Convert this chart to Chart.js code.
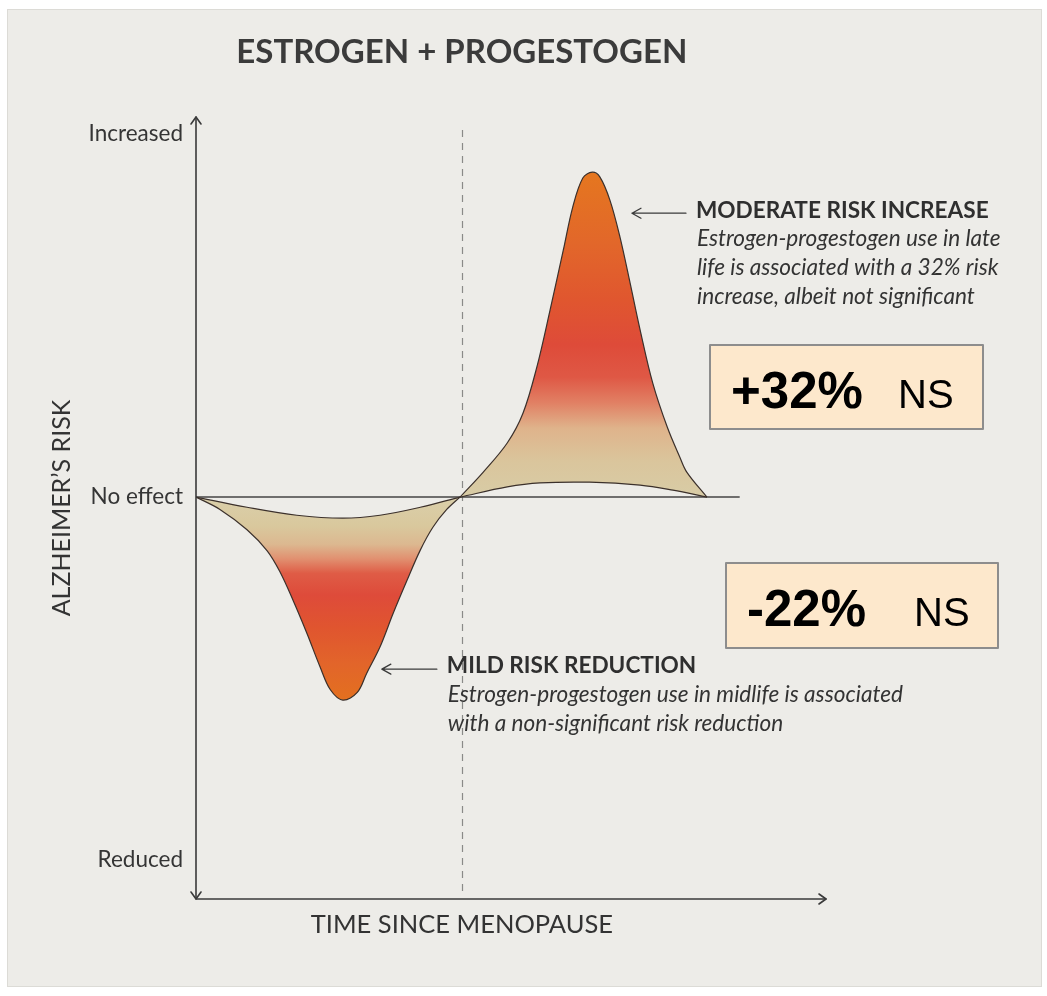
<!DOCTYPE html>
<html>
<head>
<meta charset="utf-8">
<title>Estrogen + Progestogen</title>
<script src="https://cdn.jsdelivr.net/npm/chart.js@4.4.1/dist/chart.umd.min.js"></script>
<style>
  html, body { margin: 0; padding: 0; background: #ffffff; }
  canvas { display: block; }
</style>
</head>
<body>
<canvas id="chart" width="1047" height="996"></canvas>
<script>
// ---- Data ---------------------------------------------------------------
// Y axis: relative Alzheimer's risk (0 = no effect)
const yTickValues = [1, 0, -1];
const yTickLabels = ['Increased', 'No effect', 'Reduced'];

// Midlife use (before the menopause marker): lower and upper edge of the lobe
const midlifeOuterX = [0, 0.38, 0.81, 1.13, 1.33, 1.54, 1.76, 1.97, 2.13, 2.33, 2.56, 2.71, 2.92, 3.13, 3.35, 3.56, 3.76, 3.98, 4.19];
const midlifeOuterY = [0, -0.034, -0.090, -0.148, -0.205, -0.284, -0.375, -0.468, -0.530, -0.559, -0.538, -0.485, -0.413, -0.320, -0.229, -0.146, -0.083, -0.034, 0];
const midlifeInnerX = [0, 0.81, 1.60, 2.33, 2.92, 3.56, 4.19];
const midlifeInnerY = [0, -0.028, -0.050, -0.058, -0.050, -0.028, 0];

// Late-life use: upper and lower edge of the lobe
const lateOuterX = [4.19, 4.56, 4.94, 5.19, 5.41, 5.62, 5.83, 5.98, 6.14, 6.29, 6.41, 6.57, 6.73, 6.89, 7.05, 7.25, 7.48, 7.68, 7.79, 8.11];
const lateOuterY = [0, 0.069, 0.149, 0.231, 0.358, 0.515, 0.680, 0.799, 0.879, 0.895, 0.882, 0.818, 0.716, 0.590, 0.460, 0.314, 0.193, 0.110, 0.069, 0];
const lateInnerX = [4.19, 4.94, 5.46, 6.25, 7.05, 7.57, 8.11];
const lateInnerY = [0, 0.028, 0.039, 0.041, 0.033, 0.019, 0];

// "No effect" reference line and the menopause marker
const noEffectX = [0, 8.63];
const noEffectY = [0, 0];
const menopauseX = 4.22;

// Text content
const chartTitle = 'ESTROGEN + PROGESTOGEN';
const xAxisTitle = 'TIME SINCE MENOPAUSE';
const yAxisTitle = 'ALZHEIMER\u2019S RISK';
const lateHeading = 'MODERATE RISK INCREASE';
const lateLines = ['Estrogen-progestogen use in late', 'life is associated with a 32% risk', 'increase, albeit not significant'];
const midHeading = 'MILD RISK REDUCTION';
const midLines = ['Estrogen-progestogen use in midlife is associated', 'with a non-significant risk reduction'];
const effectLabels = ['+32%', '-22%'];
const significanceLabels = ['NS', 'NS'];

// ---- Helpers --------------------------------------------------------------
const toPoints = (xs, ys) => xs.map((x, i) => ({ x, y: ys[i] }));

// Vertical gradient running from the no-effect line out to the lobe tip
function lobeGradient(ctx, stops) {
  const chart = ctx.chart;
  const { chartArea, scales } = chart;
  if (!chartArea) return 'rgba(224,90,40,0.8)';
  const y0 = scales.y.getPixelForValue(0);
  const yEnd = scales.y.getPixelForValue(stops[stops.length - 1][0]);
  const g = chart.ctx.createLinearGradient(0, y0, 0, yEnd);
  const span = stops[stops.length - 1][0];
  stops.forEach(([v, c]) => g.addColorStop(Math.min(1, Math.max(0, v / span)), c));
  return g;
}

const lateStops = [
  [0.00, '#d8cca6'],
  [0.10, '#dac59c'],
  [0.19, '#dfb38b'],
  [0.26, '#e18064'],
  [0.33, '#df5845'],
  [0.42, '#de4b39'],
  [0.54, '#e0562f'],
  [0.70, '#e2672a'],
  [0.90, '#e5771f']
];
const midStops = [
  [0.00, '#dacfaa'],
  [0.08, '#d9c89d'],
  [0.13, '#dcb890'],
  [0.17, '#e19070'],
  [0.21, '#df5c46'],
  [0.27, '#de4b3a'],
  [0.36, '#e0552f'],
  [0.46, '#e2652a'],
  [0.56, '#e3701f']
];

// ---- Decorations drawn around the plot --------------------------------------
const decorations = {
  id: 'decorations',
  beforeDraw(chart) {
    const c = chart.ctx;
    c.save();
    c.fillStyle = '#ffffff';
    c.fillRect(0, 0, chart.width, chart.height);
    c.fillStyle = '#edece8';
    c.fillRect(7, 9, 1035, 978);
    c.strokeStyle = '#dcdbd6';
    c.lineWidth = 1;
    c.strokeRect(7.5, 9.5, 1034, 977);
    c.restore();
  },
  beforeDatasetsDraw(chart) {
    const c = chart.ctx;
    const { chartArea, scales } = chart;
    const mx = Math.round(scales.x.getPixelForValue(menopauseX)) + 0.5;
    c.save();
    c.strokeStyle = '#8a8a88';
    c.lineWidth = 1.2;
    c.setLineDash([7, 6]);
    c.beginPath();
    c.moveTo(mx, chartArea.top + 13);
    c.lineTo(mx, chartArea.bottom - 2);
    c.stroke();
    c.restore();
  },
  afterDatasetsDraw(chart) {
    const c = chart.ctx;
    const { chartArea, scales } = chart;
    const ax = scales.x.getPixelForValue(0);
    const top = chartArea.top, bottom = chartArea.bottom, right = chartArea.right;
    c.save();
    // Axes with arrow heads
    c.strokeStyle = '#3a3a3a';
    c.lineWidth = 1.6;
    c.lineCap = 'round';
    c.lineJoin = 'round';
    c.beginPath();
    c.moveTo(ax, top); c.lineTo(ax, bottom);
    c.moveTo(ax, bottom); c.lineTo(right, bottom);
    c.stroke();
    c.beginPath();
    c.moveTo(ax - 5, top + 7); c.lineTo(ax, top); c.lineTo(ax + 5, top + 7);
    c.moveTo(ax - 5, bottom - 7); c.lineTo(ax, bottom); c.lineTo(ax + 5, bottom - 7);
    c.moveTo(right - 7, bottom - 5); c.lineTo(right, bottom); c.lineTo(right - 7, bottom + 5);
    c.stroke();

    const mx = scales.x.getPixelForValue(menopauseX);

    // Chart title, centred on the menopause marker
    c.fillStyle = '#3b3b3b';
    c.textAlign = 'center';
    c.textBaseline = 'middle';
    c.font = 'bold 33px Lato';
    c.fillText(chartTitle, mx, 52);

    // X axis title
    c.fillStyle = '#333333';
    c.font = '25.5px Lato';
    c.fillText(xAxisTitle, mx, 925);

    // Y axis title
    c.save();
    c.translate(62, (top + bottom) / 2);
    c.rotate(-Math.PI / 2);
    c.font = '25px Lato';
    c.fillText(yAxisTitle, 0, 0);
    c.restore();

    // Callouts
    const callout = (tipX, tipY, len, heading, lines, lineGap) => {
      const px = scales.x.getPixelForValue(tipX);
      const py = scales.y.getPixelForValue(tipY);
      c.strokeStyle = '#3a3a3a';
      c.lineWidth = 1.3;
      c.beginPath();
      c.moveTo(px + len, py); c.lineTo(px, py);
      c.moveTo(px + 9, py - 5); c.lineTo(px, py); c.lineTo(px + 9, py + 5);
      c.stroke();
      const tx = px + len + 10;
      c.textAlign = 'left';
      c.textBaseline = 'middle';
      c.fillStyle = '#2f2f2f';
      c.font = 'bold 22.6px Lato';
      c.fillText(heading, tx, py - 3);
      c.fillStyle = '#333333';
      c.font = 'italic 22.6px Lato';
      lines.forEach((t, i) => c.fillText(t, tx + 1, py - 3 + lineGap * (i + 1)));
    };
    callout(6.92, 0.782, 54, lateHeading, lateLines, 28.7);
    callout(2.95, -0.474, 55, midHeading, midLines, 28.7);

    // Effect-size boxes
    const box = (x, y, w, h, big, small) => {
      c.fillStyle = '#fde8cc';
      c.fillRect(x, y, w, h);
      c.strokeStyle = '#8d8d8d';
      c.lineWidth = 2;
      c.strokeRect(x, y, w, h);
      c.fillStyle = '#000000';
      c.textAlign = 'left';
      c.textBaseline = 'alphabetic';
      c.font = 'bold 51px "Liberation Sans", Arial, sans-serif';
      c.fillText(big, x + 21, y + 63);
      c.font = '40px "Liberation Sans", Arial, sans-serif';
      c.fillText(small, x + 188, y + 63);
    };
    box(710, 345, 273, 84, effectLabels[0], significanceLabels[0]);
    box(726, 563, 272, 85, effectLabels[1], significanceLabels[1]);
    c.restore();
  }
};

// ---- Chart ------------------------------------------------------------------
const edge = { borderColor: '#3b302b', borderWidth: 1.2, pointRadius: 0, tension: 0.35 };

new Chart(document.getElementById('chart'), {
  type: 'line',
  data: {
    datasets: [
      { label: 'Midlife (upper edge)', data: toPoints(midlifeInnerX, midlifeInnerY), fill: false, ...edge },
      { label: 'Midlife use', data: toPoints(midlifeOuterX, midlifeOuterY), fill: 0,
        backgroundColor: (ctx) => lobeGradient(ctx, midStops.map(([v, col]) => [-v, col])), ...edge },
      { label: 'Late life (lower edge)', data: toPoints(lateInnerX, lateInnerY), fill: false, ...edge },
      { label: 'Late-life use', data: toPoints(lateOuterX, lateOuterY), fill: 2,
        backgroundColor: (ctx) => lobeGradient(ctx, lateStops), ...edge },
      { label: 'No effect', data: toPoints(noEffectX, noEffectY), fill: false,
        borderColor: '#454545', borderWidth: 1.5, pointRadius: 0, tension: 0 }
    ]
  },
  options: {
    responsive: false,
    devicePixelRatio: 1,
    animation: false,
    layout: { padding: { left: 0, right: 221, top: 117, bottom: 97 } },
    plugins: { legend: { display: false }, tooltip: { enabled: false } },
    scales: {
      x: { type: 'linear', min: 0, max: 10, display: false },
      y: {
        type: 'linear', min: -1.107, max: 1.047,
        grid: { display: false, drawTicks: false },
        border: { display: false },
        afterFit(scale) { scale.width = 196; },
        afterBuildTicks(scale) { scale.ticks = yTickValues.map((v) => ({ value: v })); },
        ticks: {
          autoSkip: false,
          padding: 13,
          color: '#353535',
          font: { family: 'Lato', size: 22.5 },
          callback: (value) => yTickLabels[yTickValues.indexOf(value)]
        }
      }
    }
  },
  plugins: [decorations]
});
</script>
</body>
</html>
